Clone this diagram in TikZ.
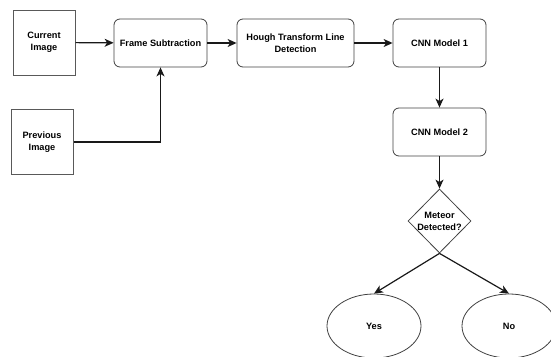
\documentclass[tikz,border=0pt]{standalone}
\usepackage{fontspec}
\setmainfont{Liberation Sans}
\usetikzlibrary{shapes.geometric,arrows.meta}
\begin{document}
\begin{tikzpicture}[x=1pt,y=-1pt,
  every node/.style={font=\fontsize{9.2}{12}\selectfont\bfseries, align=center, inner sep=0pt},
  sqbox/.style={draw=black!65, line width=1pt, minimum width=62pt, minimum height=65pt},
  rbox/.style={draw=black!75, line width=0.8pt, rounded corners=6pt, minimum width=93pt, minimum height=48pt},
  dia/.style={draw=black!75, line width=0.8pt, diamond, minimum width=63pt, minimum height=64pt, aspect=1},
  ell/.style={draw=black!75, line width=0.8pt, ellipse, minimum width=94pt, minimum height=64pt},
  arr/.style={-{Stealth[length=9pt,width=8pt,inset=2.5pt]}, line width=1.2pt, black!90}
]
\useasboundingbox (0,0) rectangle (551,356);
\node[sqbox] (cur) at (44,42.5) {Current\\Image};
\node[sqbox] (prev) at (42,142) {Previous\\Image};
\node[rbox] (fs) at (160.5,43) {Frame Subtraction};
\node[rbox, minimum width=117pt] (hough) at (295.5,43) {Hough Transform Line\\Detection};
\node[rbox] (cnn1) at (439.5,43) {CNN Model 1};
\node[rbox] (cnn2) at (439.5,132) {CNN Model 2};
\node[dia] (md) at (439.5,221) {Meteor\\Detected?};
\node[ell] (yes) at (374,326) {Yes};
\node[ell] (no) at (509,326) {No};
\draw[arr] (cur) -- (fs);
\draw[arr] (prev.east) -| (fs.south);
\draw[arr] (fs) -- (hough);
\draw[arr] (hough) -- (cnn1);
\draw[arr] (cnn1) -- (cnn2);
\draw[arr] (cnn2) -- (md);
\draw[arr] (md.south) -- (yes.north);
\draw[arr] (md.south) -- (no.north);
\end{tikzpicture}
\end{document}
